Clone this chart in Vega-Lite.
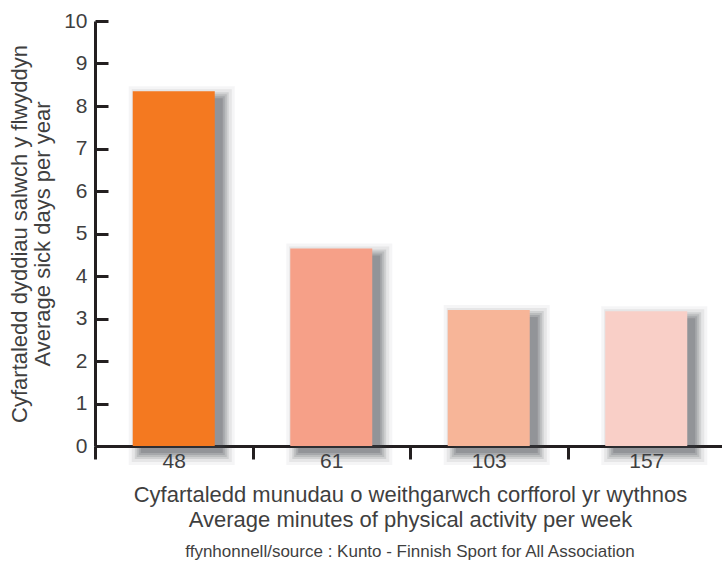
{
  "$schema": "https://vega.github.io/schema/vega-lite/v6.json",
  "width": 630,
  "height": 425,
  "padding": {"left": 8, "top": 10, "right": 0, "bottom": 2},
  "background": "white",
  "config": {
    "view": {"stroke": null},
    "font": "Liberation Sans",
    "axis": {"labelFont": "Liberation Sans", "titleFont": "Liberation Sans", "labelColor": "#3f3f3f", "titleColor": "#3f3f3f", "titleFontWeight": "normal", "domainColor": "#231f20", "tickColor": "#231f20", "domainWidth": 3, "tickWidth": 3, "grid": false}
  },
  "title": {"text": "ffynhonnell/source : Kunto - Finnish Sport for All Association", "orient": "bottom", "anchor": "middle", "frame": "group", "fontSize": 17, "fontWeight": "normal", "color": "#3f3f3f", "offset": 14},
  "data": {"values": [
    {"minutes": "48", "days": 8.35, "c": "#F47920"},
    {"minutes": "61", "days": 4.65, "c": "#F6A088"},
    {"minutes": "103", "days": 3.2, "c": "#F7B598"},
    {"minutes": "157", "days": 3.17, "c": "#F9CFC7"}
  ]},
  "encoding": {
    "x": {"field": "minutes", "type": "ordinal", "sort": null,
      "scale": {"paddingInner": 0, "paddingOuter": 0},
      "axis": {"labelAngle": 0, "tickBand": "extent", "tickSize": 13, "labelPadding": -9, "labelFontSize": 21,
        "title": ["Cyfartaledd munudau o weithgarwch corfforol yr wythnos", "Average minutes of physical activity per week"],
        "titleFontSize": 22, "titleLineHeight": 25, "titlePadding": 13}},
    "y": {"field": "days", "type": "quantitative",
      "scale": {"domain": [0, 10], "nice": false},
      "axis": {"values": [0,1,2,3,4,5,6,7,8,9,10], "tickSize": -13, "labelPadding": 21, "labelFontSize": 21,
        "title": ["Cyfartaledd dyddiau salwch y flwyddyn", "Average sick days per year"],
        "titleFontSize": 22, "titleLineHeight": 23, "titlePadding": 9}}
  },
  "layer": [
    {"mark": {"type": "bar", "color": "#3c3f45", "opacity": 0.18, "width": 82, "xOffset": 8, "yOffset": 7, "y2Offset": 7}, "encoding": {"y2": {"datum": 0}}},
    {"mark": {"type": "bar", "color": "#3c3f45", "opacity": 0.16, "width": 86, "xOffset": 8, "yOffset": 5, "y2Offset": 9}, "encoding": {"y2": {"datum": 0}}},
    {"mark": {"type": "bar", "color": "#3c3f45", "opacity": 0.14, "width": 90, "xOffset": 8, "yOffset": 3, "y2Offset": 11}, "encoding": {"y2": {"datum": 0}}},
    {"mark": {"type": "bar", "color": "#3c3f45", "opacity": 0.12, "width": 94, "xOffset": 8, "yOffset": 1, "y2Offset": 13}, "encoding": {"y2": {"datum": 0}}},
    {"mark": {"type": "bar", "color": "#3c3f45", "opacity": 0.08, "width": 100, "xOffset": 8, "yOffset": -2, "y2Offset": 16}, "encoding": {"y2": {"datum": 0}}},
    {"mark": {"type": "bar", "color": "#3c3f45", "opacity": 0.05, "width": 106, "xOffset": 8, "yOffset": -5, "y2Offset": 19}, "encoding": {"y2": {"datum": 0}}},
    {"mark": {"type": "bar", "width": 82}, "encoding": {"color": {"field": "c", "type": "nominal", "scale": null}}}
  ]
}
